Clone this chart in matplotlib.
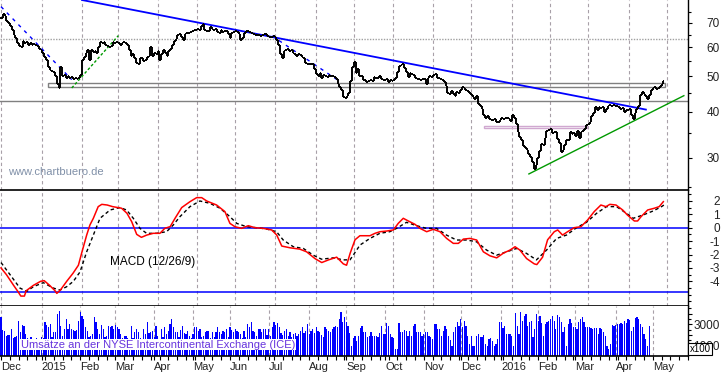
import numpy as np
import pandas as pd
import matplotlib
matplotlib.use("Agg")
import matplotlib.pyplot as plt
from matplotlib.patches import Rectangle

plt.rcParams['font.family'] = ['Liberation Sans', 'DejaVu Sans']
plt.rcParams['axes.unicode_minus'] = False

# daily closes, one per trading day from 2014-12-01
close = [
    72, 74, 73, 71, 70, 68.5, 67, 65, 63.5, 61.5,
    60.5, 60, 62.3, 61.5, 62, 61, 61.5, 60.8, 61.2, 61,
    60.5, 59.5, 59.2, 58, 56.5, 55.5, 53, 52, 51.7, 51.5,
    50, 47.7, 46.5, 53, 50, 50.3, 49.5, 50, 49.4, 49.8,
    49.3, 49.6, 49.2, 49.5, 50.5, 55.6, 56.5, 58, 59.2, 55.6,
    59.2, 58.4, 58.8, 58, 60, 62, 61.5, 62, 61, 60.5,
    60, 60.5, 62, 61.5, 62, 61.7, 61, 61.5, 62, 61.5,
    61, 59, 57, 57.5, 56, 54.5, 54, 56, 56, 55,
    55.6, 56.5, 57, 60, 57, 58, 57.5, 58.5, 55.5, 57.5,
    59, 58, 57, 58.5, 59.5, 61, 62.5, 63.4, 65, 65.2,
    64, 62.8, 65.3, 65.6, 65.6, 66, 66.5, 66.8, 67.1, 67.5,
    67, 68.5, 69.5, 67, 66.3, 66.3, 68.2, 67.5, 67, 67.5,
    66, 65.5, 67, 66, 66.3, 66.5, 65.2, 63.8, 65.6, 66,
    66.5, 66, 65.2, 63, 63.5, 65.5, 66.3, 66.3, 66, 65.6,
    65.3, 65, 65, 65, 64.5, 64.8, 65.3, 65.4, 64.6, 64.2,
    64.2, 64.3, 64.2, 63, 61, 57.5, 56.3, 58.5, 59.2, 59.5,
    58.5, 59, 57.8, 57.4, 57, 57.4, 57.2, 56.6, 56, 54.3,
    53.9, 54, 54.2, 54.2, 52.3, 50.8, 50.1, 51, 49.6, 50.5,
    50, 49.8, 50.5, 50.2, 50, 49.8, 49.1, 47.8, 46.8, 46,
    43.8, 43.6, 44.3, 45, 48.5, 53, 54.7, 51, 52.3, 50,
    50.1, 48.8, 49, 48.4, 48.6, 48.8, 48.6, 49.8, 49.4, 49.4,
    50.1, 49.2, 48.8, 48.8, 49.1, 48.3, 49, 48.7, 49, 49.5,
    51.5, 53.5, 53.6, 54.2, 52.7, 51.5, 49.8, 51, 50.8, 50.5,
    49.6, 49.3, 49.2, 49, 49.1, 49.3, 47.8, 49.6, 50.1, 49.8,
    50.5, 50.8, 49.6, 49.6, 49.2, 48.8, 48.3, 47, 45, 44.7,
    45.5, 44.7, 44.3, 45.2, 45, 46, 46.8, 46.6, 46, 45.5,
    45, 44.6, 44, 43.4, 44.3, 42, 41.5, 40.8, 39.3, 38.5,
    38.9, 38.3, 38, 38, 38.2, 37.6, 37.6, 38.1, 38.6, 38.3,
    38.4, 38.6, 38.2, 37.9, 39.3, 38.6, 37, 35.2, 34.2, 33.5,
    32.2, 31.9, 31.5, 30.7, 30.1, 29.3, 27.9, 28.6, 30, 31.3,
    32.8, 32.6, 34, 35.6, 35.8, 36, 35, 35.2, 35.3, 33.8,
    32.9, 31.2, 31.5, 32.5, 33.6, 33.5, 35.3, 34.9, 35.1, 34.3,
    35.5, 34, 35.3, 35.6, 36, 36.8, 37.2, 37.6, 38.9, 39.7,
    41.3, 40.6, 41.2, 41, 41.2, 39.9, 40.8, 41.5, 41.8, 41.5,
    41.8, 41.4, 41.6, 41.3, 40.7, 41, 40, 40.5, 40.4, 40.8,
    39.2, 38.3, 39.7, 40.8, 41.6, 44.5, 45.3, 44.9, 44.3, 43.4,
    44.4, 46, 46.4, 46.7, 46.1, 46.6, 47, 47.6, 48.5,
]

# volume in units of 100 shares
volume = [
    3660, 2500, 2400, 1930, 1950, 1950, 2550, 1700, 1800, 1850,
    3340, 2300, 2940, 2880, 2080, 1700, 1500, 1800, 1600, 1400,
    1700, 1500, 1600, 1800, 1700, 3250, 2940, 2700, 3030, 1800,
    2300, 2250, 3980, 4290, 2880, 1900, 2550, 3500, 2550, 3030,
    2550, 2500, 2400, 2500, 3340, 4140, 3820, 3500, 2700, 2400,
    1800, 1930, 2080, 3660, 3250, 2550, 2080, 2940, 2550, 1800,
    1930, 2880, 2700, 2880, 2550, 2940, 2700, 2550, 2080, 1700,
    1930, 1930, 1700, 1600, 2880, 1700, 2250, 2550, 2250, 1700,
    1600, 2550, 2080, 3180, 2150, 2250, 2400, 1800, 2880, 1930,
    1600, 2550, 1800, 2700, 2080, 2400, 3030, 3500, 2700, 2250,
    2250, 1800, 2500, 2880, 2150, 2080, 2400, 1930, 1700, 2080,
    2700, 2700, 2400, 2550, 1800, 1930, 2250, 2400, 2400, 1700,
    2250, 1800, 2250, 2700, 2300, 2080, 2400, 2250, 2600, 1800,
    2700, 2500, 2300, 2550, 2400, 2300, 2080, 1700, 2400, 1800,
    3030, 2700, 3180, 2400, 2300, 1900, 2600, 2550, 2300, 2600,
    2600, 2000, 2550, 1930, 2700, 3250, 2940, 3100, 2700, 2150,
    2000, 2400, 2550, 1930, 2250, 1800, 2080, 2150, 1900, 2080,
    2400, 2700, 2150, 2400, 3030, 2100, 2400, 2550, 2150, 2700,
    2400, 2250, 2000, 1800, 2700, 2550, 2400, 2300, 2600, 2700,
    2880, 2720, 3500, 4130, 3180, 3650, 3250, 2810, 2180,
    980, 1670, 1930, 1450, 1930, 2620, 2870, 2240, 2240, 1770,
    1930, 2300, 1930, 1930, 1930, 1770, 2180, 2870, 2080,
    2080, 3120, 2870, 2080, 1770, 1670, 660, 660, 3120, 2240, 2240,
    2490, 2400, 1930, 2400, 1930, 2810, 3030, 2240, 2300, 2240, 1930,
    2080, 2240, 2240, 1930, 1770, 1610, 3030, 3030, 2560, 2560,
    1930, 2400, 2870, 2560, 1930, 1550, 980, 2240, 2710, 3180,
    2810, 3500, 2710, 3340, 2810, 1930, 1140, 1860, 980, 980, 1930, 2080,
    1770, 1770, 1990, 1140, 980, 1610, 1670, 1450, 980, 1140, 1610,
    3180, 3180, 2620, 2810, 2080, 2080, 2080, 1930, 980, 4070, 2870,
    2080, 4130, 3340, 3810, 3970, 2810, 3180, 3340, 1770, 2560, 3970,
    3340, 3810, 3120, 1930, 3030, 3180, 3340, 3500, 3810, 3340, 2560,
    3880, 3650, 3180, 2240, 2710, 980, 3030, 3500, 3120, 2710,
    2710, 2560, 3180, 3500, 3650, 3180, 2710, 2710, 2710, 2620, 2560,
    2620, 2620, 2080, 2620, 2560, 2240, 1930, 980, 660, 1140, 2930,
    2870, 2930, 3030, 3030, 3120, 3030, 3340, 3120, 3500, 3440, 2400,
    2710, 3560, 3650, 3500, 3030, 2710, 2080, 1610, 980, 2870,
]

# MACD (12/26/9): bar number, value
macd_bar = [0, 3, 7, 9.6, 11, 13, 14, 18, 22, 24, 27, 30, 31, 33, 36.5, 40, 43, 45,
            47.6, 49.4, 51.3, 54, 56, 59, 62, 67, 70, 72.6, 75.4, 78, 81, 84.6, 88.3,
            91, 94, 96.7, 100.4, 105, 108.7, 111.5, 114.3, 119.8, 124.4, 127.2, 130,
            133.7, 137.4, 141, 145.7, 150.4, 153.2, 156, 160.6, 166, 169.8, 174.4,
            178.2, 182, 186.5, 190.2, 192, 194, 196.7, 199.4, 205, 207.8, 210.6,
            214.3, 218, 220.7, 223.5, 226.3, 230, 232.8, 236.5, 240.2, 243.9, 247.6,
            251.3, 254.1, 256.9, 260.6, 264.3, 268, 271.7, 275.4, 279.1, 282.8,
            285.6, 288.3, 292, 296.3, 297.7, 300.9, 303.7, 307.4, 309.3, 312, 314.8,
            318.5, 322.2, 325.9, 329.6, 333.3, 336.1, 338.3, 341.7, 345.4, 348,
            351.9, 353.7, 355.6, 359.3, 363, 365.7, 368]
macd_val = [-3.0, -3.5, -4.3, -4.8, -5.1, -5.1, -4.7, -4.3, -4.0, -3.95, -4.3, -4.7,
            -4.9, -4.65, -4.0, -3.4, -2.8, -1.8, -0.55, 0.2, 0.7, 1.57, 1.74, 1.69,
            1.57, 1.45, 1.07, 0.45, -0.5, -0.72, -0.55, -0.42, -0.42, -0.05, 0.08,
            0.7, 1.5, 1.94, 2.24, 2.24, 1.99, 1.69, 1.2, 0.32, 0.07, -0.05, 0.15, 0,
            -0.05, -0.17, -0.55, -1.37, -1.5, -1.6, -1.8, -2.3, -2.6, -2.4, -2.2,
            -2.7, -2.8, -1.9, -0.9, -0.6, -0.6, -0.42, -0.3, -0.25, -0.17, 0.32, 0.7,
            0.5, 0.25, -0.05, -0.3, -0.12, -0.3, -0.8, -1.17, -1.17, -0.85, -0.8,
            -0.92, -1.8, -2.1, -2.25, -1.9, -1.67, -1.42, -1.67, -2.3, -2.7, -2.75,
            -2.2, -0.9, -0.3, -0.17, -0.55, -0.3, 0, 0.07, 0.57, 1.2, 1.69, 1.57,
            1.74, 1.69, 1.32, 0.95, 0.5, 0.5, 0.82, 1.32, 1.45, 1.57, 1.94]
signal_bar = [0, 5, 10.5, 14.3, 18, 23.5, 29, 32.8, 36.5, 40.2, 43.9, 47.6, 51.3, 55,
              60.6, 66, 69.8, 73.5, 77.2, 80.9, 86.5, 92, 95.7, 99.4, 105, 110.5, 116,
              121.7, 127.2, 131, 136.5, 142, 147.6, 153.1, 156.8, 162.4, 168, 173.5,
              178.1, 184.6, 190.2, 193.9, 197.6, 199.4, 205, 210.5, 216, 219.8, 225.3,
              230.9, 236.4, 242, 247.5, 253.1, 258.7, 264.2, 269.8, 275.3, 280.9,
              286.4, 292, 297.5, 303.1, 308.7, 314.2, 319.8, 325.3, 330.9, 336.4, 342,
              347.5, 351.3, 356.8, 362.4, 367, 368.9]
signal_val = [-2.6, -3.5, -4.5, -4.75, -4.4, -4.1, -4.5, -4.65, -4.4, -4.0, -3.3, -1.8,
              -0.55, 0.7, 1.32, 1.5, 1.32, 0.7, -0.05, -0.42, -0.42, -0.3, 0.2, 0.82,
              1.57, 1.99, 1.82, 1.45, 0.82, 0.32, 0.07, 0, -0.1, -0.3, -0.92, -1.42,
              -1.55, -2.05, -2.35, -2.25, -2.4, -2.4, -1.67, -1.3, -0.8, -0.42, -0.3,
              -0.05, 0.4, 0.15, -0.05, -0.05, -0.55, -0.92, -0.92, -1.05, -1.67, -2.05,
              -1.8, -1.55, -1.92, -2.4, -1.67, -0.8, -0.55, 0, 0.4, 1.07, 1.57, 1.57,
              1.07, 0.7, 0.95, 1.25, 1.57, 1.74]
macd_bands = [0, -4.83]

# drawn trend lines: (bar, price) end points
trend_down = [(45, 80.8), (358.3, 40.6)]
trend_down_a = [(0, 77.5), (39.3, 49.0)]
trend_down_b = [(150.6, 64.5), (186.7, 49.0)]
trend_up_a = [(39.3, 46.5), (65.2, 64.6)]
trend_up_b = [(293.3, 27.1), (379.4, 44.3)]
level_dotted = 63.2
level_line = 42.9
zone_gray = (26.1, 368.9, 46.9, 47.9)
zone_pink = (268.3, 325.6, 36.2, 36.7)

dates = pd.bdate_range('2014-12-01', '2016-05-31')
month_pos = [i for i in range(len(dates)) if i == 0 or dates[i].month != dates[i - 1].month]
month_lab = [str(dates[i].year) if dates[i].month == 1 else dates[i].strftime('%b') for i in month_pos]
week_pos = [i for i, d in enumerate(dates) if d.weekday() == 0]

W, H = 723, 373
fig = plt.figure(figsize=(W / 100, H / 100), dpi=100)


def box(x0, y0, x1, y1):
    return [x0 / W, 1 - y1 / H, (x1 - x0) / W, (y1 - y0) / H]


ax1 = fig.add_axes(box(0, 0, 688, 190))
ax2 = fig.add_axes(box(0, 190, 688, 306))
ax3 = fig.add_axes(box(0, 306, 688, 356))

xlim = (-0.56, 381.7)
grid_kw = dict(color='#a8a0a8', lw=0.8, ls=(0, (3, 2.5)), zorder=0)
for ax in (ax1, ax2, ax3):
    ax.set_xlim(*xlim)
    for p in month_pos:
        ax.axvline(p, **grid_kw)
    ax.spines['left'].set_visible(False)
    ax.spines['top'].set_visible(False)
    ax.spines['bottom'].set_visible(False)
    ax.spines['right'].set_linewidth(1.0)
    ax.yaxis.tick_right()
    ax.tick_params(axis='y', which='major', length=3, width=0.8, pad=20,
                   labelsize=8.5, labelcolor='#222222')
    ax.tick_params(axis='y', which='minor', length=2, width=0.8)
    ax.set_xticks([])
ax2.spines['top'].set_visible(True)
ax2.spines['bottom'].set_visible(True)
ax3.spines['bottom'].set_visible(True)
for ax in (ax2, ax3):
    ax.spines['top'].set_linewidth(1.2)
    ax.spines['bottom'].set_linewidth(1.2)

# price panel
x = np.arange(len(close))
c = np.array(close)
o = np.r_[c[0], c[:-1]]
ax1.set_yscale('log')
ax1.set_ylim(24.5, 80.8)
ax1.vlines(x, np.minimum(o, c), np.maximum(o, c), color='black', lw=1.4, zorder=4)
ax1.hlines(o, x - 0.5, x, color='black', lw=1.4, zorder=4)
ax1.hlines(c, x, x + 0.5, color='black', lw=1.4, zorder=4)

ax1.axhline(level_dotted, color='#a0a0a0', lw=1, ls=(0, (1, 1)), zorder=1)
ax1.axhline(level_line, color='#808080', lw=1, zorder=1)
for (x0, x1, y0, y1), col in ((zone_gray, '#808080'), (zone_pink, '#d0a8d0')):
    ax1.add_patch(Rectangle((x0, y0), x1 - x0, y1 - y0, fill=False, ec=col, lw=1, zorder=2))

for pts, col, lw, ls in ((trend_down, '#0000ff', 1.3, '-'),
                         (trend_down_a, '#0000ff', 1.0, (0, (2.5, 3.5))),
                         (trend_down_b, '#0000ff', 1.0, (0, (2.5, 3.5))),
                         (trend_up_a, '#009900', 1.0, (0, (2, 1.5))),
                         (trend_up_b, '#009900', 1.0, '-')):
    ax1.plot([p[0] for p in pts], [p[1] for p in pts], color=col, lw=lw, ls=ls, zorder=3)

ax1.set_yticks([30, 40, 50, 60, 70])
ax1.set_yticklabels(['30', '40', '50', '60', '70'])
ax1.set_yticks([25, 35, 45, 55, 65, 75], minor=True)
ax1.yaxis.set_minor_formatter(plt.NullFormatter())
ax1.text(8 / 688, 1 - 172 / 190, 'www.chartbuero.de', transform=ax1.transAxes,
         fontsize=8, color='#8090a8', va='center')

# MACD panel
ax2.set_ylim(-5.84, 2.81)
for b in macd_bands:
    ax2.axhline(b, color='#0000ff', lw=1.1, zorder=1)
ax2.plot(signal_bar, signal_val, color='black', lw=1, ls=(0, (2.5, 2)), zorder=3)
ax2.plot(macd_bar, macd_val, color='#ff0000', lw=1.1, zorder=4)
ax2.set_yticks([-4, -3, -2, -1, 0, 1, 2])
ax2.set_yticks(np.arange(-5.5, 2.6, 0.5), minor=True)
ax2.text(110 / 688, (306 - 261.7) / 116, 'MACD (12/26/9)', transform=ax2.transAxes,
         fontsize=8.5, va='center')

# volume panel
ax3.set_ylim(0, 4730)
ax3.bar(np.arange(len(volume)), volume, width=0.7, color='#0000ff', lw=0, zorder=2)
ax3.set_yticks([1000, 2000, 3000, 4000])
ax3.set_yticklabels(['1000', '', '3000', ''])
ax3.set_yticks([500, 1500, 2500, 3500, 4500], minor=True)
ax3.text(21 / 688, (356 - 344.7) / 50,
         'Umsätze an der NYSE Intercontinental Exchange (ICE)', transform=ax3.transAxes,
         fontsize=8, color='#6633dd', va='center', zorder=5,
         bbox=dict(fc='white', ec='none', pad=0.6))

ax3.set_xticks(month_pos)
ax3.set_xticklabels(month_lab, ha='left', fontsize=8, color='#222222')
ax3.set_xticks(week_pos, minor=True)
ax3.tick_params(axis='x', which='both', length=3, width=0.8, pad=1.5, direction='out')

for ax in (ax1, ax2, ax3):
    for lab in ax.get_yticklabels():
        lab.set_horizontalalignment('right')

fig.text(700 / W, 1 - 349 / H, 'x100', ha='center', va='center', fontsize=7,
         bbox=dict(fc='white', ec='black', lw=0.8, pad=0.8), zorder=10)

fig.savefig('out.png', dpi=100)
